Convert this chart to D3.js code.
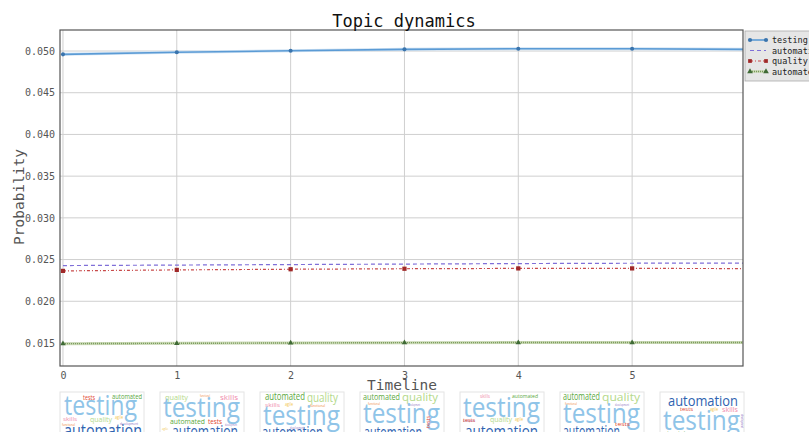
<!DOCTYPE html>
<html>
<head>
<meta charset="utf-8">
<script src="https://cdn.jsdelivr.net/npm/d3@7"></script>
<style>
  body { margin: 0; background: #fff; }
  text { font-family: "DejaVu Sans Mono", monospace; }
</style>
</head>
<body>
<div id="chart"></div>
<script>
// data
const timeline = [0, 1, 2, 3, 4, 5, 6];
const topics = ["testing", "automation", "quality", "automated"];
const testingVals    = [0.04960, 0.04985, 0.05003, 0.05020, 0.05028, 0.05028, 0.05020];
const automationVals = [0.02428, 0.02434, 0.02440, 0.02446, 0.02452, 0.02456, 0.02458];
const qualityVals    = [0.02364, 0.02376, 0.02384, 0.02390, 0.02394, 0.02394, 0.02392];
const automatedVals  = [0.01492, 0.01496, 0.01500, 0.01504, 0.01505, 0.01505, 0.01505];
const xTicks = [0, 1, 2, 3, 4, 5];
const yTicks = [0.015, 0.020, 0.025, 0.030, 0.035, 0.040, 0.045, 0.050];
const cloudWords = ["testing", "automation", "automated", "quality", "tests", "skills", "agile", "functional", "development"];

const W = 809, H = 432;
const margin = { top: 30, right: 66, bottom: 66, left: 60 };
const width = W - margin.left - margin.right;
const height = H - margin.top - margin.bottom;

const svg = d3.select("#chart").append("svg")
  .attr("width", W).attr("height", H);

const g = svg.append("g").attr("transform", `translate(${margin.left},${margin.top})`);

const x = d3.scaleLinear().domain([-0.026, 5.974]).range([0, width]);
const y = d3.scaleLinear().domain([0.01224, 0.05252]).range([height, 0]);

// grid
g.append("g").selectAll("line").data(xTicks).join("line")
  .attr("x1", d => x(d)).attr("x2", d => x(d))
  .attr("y1", 0).attr("y2", height)
  .attr("stroke", "#cfcfcf").attr("stroke-width", 1);
g.append("g").selectAll("line").data(yTicks).join("line")
  .attr("x1", 0).attr("x2", width)
  .attr("y1", d => y(d)).attr("y2", d => y(d))
  .attr("stroke", "#cfcfcf").attr("stroke-width", 1);

// axes
const xAxis = g.append("g").attr("transform", `translate(0,${height})`)
  .call(d3.axisBottom(x).tickValues(xTicks).tickSize(0).tickPadding(6).tickFormat(d3.format("d")));
const yAxis = g.append("g")
  .call(d3.axisLeft(y).tickValues(yTicks).tickSize(0).tickPadding(5).tickFormat(d3.format(".3f")));
[xAxis, yAxis].forEach(a => {
  a.select(".domain").remove();
  a.selectAll("text").attr("fill", "#555").style("font-size", "10px")
    .style("font-family", "DejaVu Sans Mono, monospace");
});

// clip
svg.append("clipPath").attr("id", "plotclip").append("rect")
  .attr("width", width).attr("height", height);
const plot = g.append("g").attr("clip-path", "url(#plotclip)");

const series = [
  { name: "testing", vals: testingVals, line: "#5b9bd5", mark: "#3a74ad", dash: null, w: 1.6, shape: d3.symbolCircle },
  { name: "automation", vals: automationVals, line: "#7f6fd8", mark: "#7f6fd8", dash: "4,3", w: 1.2, shape: null },
  { name: "quality", vals: qualityVals, line: "#c84a4a", mark: "#a02828", dash: "3,2,1,2", w: 1.2, shape: d3.symbolSquare },
  { name: "automated", vals: automatedVals, line: "#7a9a5a", mark: "#3f6a35", dash: "1,1", w: 1.4, shape: d3.symbolTriangle }
];

const line = d3.line().x((d, i) => x(timeline[i])).y(d => y(d));

series.forEach(s => {
  if (s.name === "automated" || s.name === "testing") {
    plot.append("path").attr("d", line(s.vals)).attr("fill", "none")
      .attr("stroke", s.name === "testing" ? "#cfe2f3" : "#c9d8b5").attr("stroke-width", 3);
  }
  plot.append("path").attr("d", line(s.vals)).attr("fill", "none")
    .attr("stroke", s.line).attr("stroke-width", s.w)
    .attr("stroke-dasharray", s.dash);
  if (s.shape) {
    plot.selectAll(null).data(s.vals).join("path")
      .attr("transform", (d, i) => `translate(${x(timeline[i])},${y(d)})`)
      .attr("d", d3.symbol().type(s.shape).size(s.shape === d3.symbolSquare ? 18 : 13))
      .attr("fill", s.mark);
  }
});

// frame
g.append("rect").attr("width", width).attr("height", height)
  .attr("fill", "none").attr("stroke", "#555").attr("stroke-width", 1.2);

// title and labels
svg.append("text").attr("x", 404).attr("y", 27).attr("text-anchor", "middle")
  .style("font-size", "17px").attr("fill", "#111").text("Topic dynamics");
svg.append("text").attr("transform", "translate(24,197) rotate(-90)")
  .attr("text-anchor", "middle").style("font-size", "14.5px").attr("fill", "#555")
  .text("Probability");
svg.append("text").attr("x", 402).attr("y", 390).attr("text-anchor", "middle")
  .style("font-size", "14.5px").attr("fill", "#555").text("Timeline");

// legend
const lg = svg.append("g").attr("transform", "translate(745,31)");
lg.append("rect").attr("width", 70).attr("height", 50)
  .attr("fill", "#e6e6e6").attr("stroke", "#aaa").attr("stroke-width", 0.8);
series.forEach((s, i) => {
  const yy = 9 + i * 10.5;
  if (s.name === "automated") {
    lg.append("line").attr("x1", 5).attr("x2", 21).attr("y1", yy).attr("y2", yy)
      .attr("stroke", "#c9d8b5").attr("stroke-width", 2.5);
  }
  lg.append("line").attr("x1", 5).attr("x2", 21).attr("y1", yy).attr("y2", yy)
    .attr("stroke", s.line).attr("stroke-width", s.w).attr("stroke-dasharray", s.dash);
  if (s.shape) {
    [5, 21].forEach(px => lg.append("path").attr("transform", `translate(${px},${yy})`)
      .attr("d", d3.symbol().type(s.shape).size(14)).attr("fill", s.mark));
  }
  lg.append("text").attr("x", 27).attr("y", yy + 3).style("font-size", "8.5px")
    .attr("fill", "#222").text(s.name);
});

// word clouds (one small cloud per time step)
const wcColor = {
  testing: "#8fc4e8", automation: "#2f63b0", automated: "#5aa83c", quality: "#b4d98a",
  tests: "#e2472f", skills: "#f08cac", agile: "#f3c74a", functional: "#f0883a", development: "#8c6cc0"
};
// layout per cloud: [word, x, y baseline, size, width, rotate]
const cloudLayouts = [
  [["tests",23,8,7,12],["automated",52,7,7,30],["testing",4,23,27,73],["skills",3,29,6,14],["quality",30,30,8,22],["agile",55,27,5,8],["functional",2,34,4,13],["development",60,33,4,18],["automation",4,45,18,78]],
  [["quality",5,8,8,23],["functional",40,5,4,10],["skills",60,8,8,18],["testing",3,25,27,77],["automated",10,32,8,35],["tests",48,32,8,14],["agile",2,38,4,6],["development",65,34,4,12],["automation",12,45,16,66]],
  [["automated",5,8,10,40],["quality",47,10,12,31],["skills",5,15,6,15],["agile",25,14,5,8],["functional",50,15,4,15],["testing",3,33,28,77],["development",30,37,3,14],["automation",2,46,16,61],["tests",63,45,6,15]],
  [["automated",3,8,9,37],["quality",42,9,11,36],["functional",8,13,4,12],["development",48,14,4,12],["testing",3,31,28,77],["tests",70,36,6,12,-90],["automation",4,46,16,58],["skills",62,45,6,13]],
  [["skills",20,6,5,10],["automated",52,6,6,26],["testing",3,25,27,77],["development",3,30,3,12],["tests",3,30,6,12],["quality",30,30,8,22],["agile",55,29,5,8],["automation",5,45,16,73]],
  [["automated",3,8,10,37],["quality",42,9,11,38],["functional",5,13,4,12],["development",55,14,4,14],["testing",3,31,28,77],["tests",55,34,6,15],["automation",3,45,16,57],["skills",65,45,6,13]],
  [["automation",8,14,15,70],["tests",20,19,6,13],["agile",50,19,5,8],["skills",62,20,7,16],["development",81,22,4,14,90],["testing",3,38,27,77],["automated",2,44,7,23],["quality",30,45,8,25]]
];

const cx = d3.scaleBand().domain(d3.range(cloudLayouts.length)).range([60, 744]).paddingInner(0.16);
cloudLayouts.forEach((layout, k) => {
  const cg = svg.append("g").attr("transform", `translate(${cx(k)},392)`);
  cg.append("clipPath").attr("id", "wc" + k).append("rect").attr("width", cx.bandwidth()).attr("height", 50);
  cg.append("rect").attr("width", cx.bandwidth()).attr("height", 50)
    .attr("fill", "#fff").attr("stroke", "#e4e4e4").attr("stroke-width", 1);
  const inner = cg.append("g").attr("clip-path", `url(#wc${k})`);
  layout.forEach(([w, wx, wy, size, tl, rot]) => {
    if (!cloudWords.includes(w)) return;
    inner.append("text")
      .attr("transform", `translate(${wx},${wy})` + (rot ? ` rotate(${rot})` : ""))
      .attr("textLength", tl).attr("lengthAdjust", "spacingAndGlyphs")
      .style("font-family", "'Open Sans', 'DejaVu Sans', sans-serif")
      .style("font-size", size + "px")
      .attr("fill", wcColor[w]).text(w);
  });
});
</script>
</body>
</html>
